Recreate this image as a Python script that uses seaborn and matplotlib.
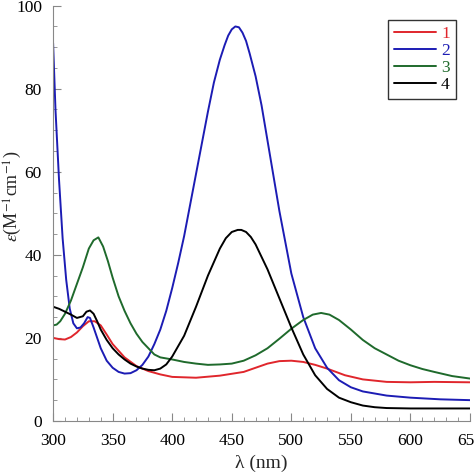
import pandas as pd
import matplotlib.pyplot as plt
import seaborn as sns
from matplotlib.ticker import MultipleLocator

# wavelengths (nm) and molar absorptivity
wl_1 = [300, 305, 310, 315, 320, 325, 330, 335, 340, 345, 350, 360, 370, 380, 390,
        400, 420, 440, 460, 470, 480, 490, 500, 510, 520, 530, 545, 560, 580, 600, 620, 650]
eps_1 = [20, 19.7, 19.6, 20.2, 21.3, 22.8, 24, 24, 23, 20.8, 18.5, 15.3, 13.2, 12, 11.2,
         10.6, 10.4, 10.9, 11.8, 12.8, 13.8, 14.4, 14.5, 14.2, 13.5, 12.6, 11, 10, 9.4, 9.3, 9.4, 9.3]

wl_2 = [300, 302, 305, 308, 311, 314, 317, 320, 323, 326, 329, 331, 334, 337, 340, 345,
        350, 355, 360, 365, 370, 375, 380, 385, 390, 395, 400, 405, 410, 415, 420, 425,
        430, 435, 440, 444, 447, 450, 453, 456, 459, 462, 465, 470, 475, 480, 485, 490,
        500, 510, 520, 530, 540, 550, 560, 580, 600, 625, 650]
eps_2 = [91, 75, 58, 44, 34, 27, 23.5, 22.3, 22.5, 23.5, 25, 24.8, 22.5, 20, 17.5, 14.5,
         12.8, 11.8, 11.4, 11.5, 12.2, 13.5, 15.5, 18.5, 22, 26.5, 32, 38, 44.5, 52, 59.5, 67,
         74.5, 81.5, 87, 90.5, 92.8, 94.3, 95, 94.8, 93.5, 91.5, 88.5, 83, 76, 67.5, 59, 50.5,
         35.5, 25, 17.5, 12.8, 9.8, 8.1, 7.1, 6.1, 5.6, 5.2, 5]

wl_3 = [300, 303, 306, 310, 315, 320, 325, 330, 334, 338, 342, 346, 350, 355, 360, 365,
        370, 375, 380, 385, 390, 400, 410, 420, 430, 440, 450, 460, 470, 480, 490, 500,
        510, 518, 525, 532, 540, 550, 560, 570, 580, 590, 600, 610, 620, 635, 650]
eps_3 = [23, 23.2, 24, 25.8, 29, 33, 37, 41.5, 43.5, 44.2, 42, 38.5, 34.5, 30, 26.5, 23.5,
         21, 19, 17.5, 16, 15.3, 14.8, 14.2, 13.8, 13.5, 13.6, 13.8, 14.5, 15.8, 17.5, 19.8, 22.2,
         24.3, 25.6, 26, 25.6, 24.3, 22, 19.5, 17.5, 16, 14.5, 13.4, 12.5, 11.8, 10.8, 10.2]

wl_4 = [300, 305, 310, 315, 320, 325, 328, 331, 334, 337, 340, 345, 350, 355, 360, 365,
        370, 375, 380, 385, 390, 395, 400, 410, 420, 430, 440, 445, 450, 455, 458, 462,
        466, 470, 480, 490, 500, 510, 520, 530, 540, 550, 560, 570, 580, 600, 625, 650]
eps_4 = [27.5, 27, 26.3, 25.6, 24.8, 25.2, 26.3, 26.6, 25.8, 24, 22, 19.5, 17.5, 16, 14.8, 13.8,
         13.1, 12.6, 12.3, 12.2, 12.6, 13.6, 15.5, 20.5, 27.5, 35, 41.5, 44, 45.5, 46, 46, 45.5,
         44.3, 42.5, 36.5, 29.5, 22.5, 16, 11, 7.7, 5.6, 4.5, 3.7, 3.3, 3.1, 3, 3, 3]

labels = ["1", "2", "3", "4"]
colors = ["#e0262c", "#1c1cb4", "#1f6a2c", "#000000"]

frames = []
for lab, wl, ep in zip(labels, [wl_1, wl_2, wl_3, wl_4], [eps_1, eps_2, eps_3, eps_4]):
    frames.append(pd.DataFrame({"wl": wl, "eps": ep, "sample": lab}))
df = pd.concat(frames, ignore_index=True)

sns.set_style("ticks")
plt.rcParams["font.family"] = ["Liberation Serif", "DejaVu Serif"]
plt.rcParams["mathtext.fontset"] = "stix"

fig = plt.figure(figsize=(4.74, 4.74), dpi=100)
ax = fig.add_axes([0.112, 0.112, 0.8796, 0.876])

sns.lineplot(data=df, x="wl", y="eps", hue="sample", palette=colors,
             estimator=None, sort=False, linewidth=1.4, ax=ax)

ax.set_xlim(300, 650)
ax.set_ylim(0, 100)
ax.xaxis.set_major_locator(MultipleLocator(50))
ax.xaxis.set_minor_locator(MultipleLocator(10))
ax.yaxis.set_major_locator(MultipleLocator(20))
ax.yaxis.set_minor_locator(MultipleLocator(5))
ax.tick_params(which="both", direction="in", colors="#888888", labelcolor="black",
               labelsize=12.5)
ax.tick_params(which="major", length=6)
ax.tick_params(which="minor", length=3)
ax.tick_params(axis="x", which="both", pad=9)
ax.tick_params(axis="y", which="both", pad=8)
for s in ["top", "right"]:
    ax.spines[s].set_visible(False)
for s in ["left", "bottom"]:
    ax.spines[s].set_color("#888888")

ax.set_xlabel("λ (nm)", fontsize=14, labelpad=4)
ax.set_ylabel(r"$\varepsilon$(M$^{-1}$cm$^{-1}$)", fontsize=13)
ax.yaxis.set_label_coords(-0.07, 0.54)

leg = ax.legend(loc="upper right", bbox_to_anchor=(0.966, 0.966), borderaxespad=0,
                fontsize=12.5, frameon=True, fancybox=False, edgecolor="black",
                handlelength=2.4, handletextpad=0.3, borderpad=0.35, labelspacing=0.05)
leg.get_frame().set_linewidth(1.0)
for txt, c in zip(leg.get_texts(), colors):
    txt.set_color(c)

fig.savefig("out.png", dpi=100)
